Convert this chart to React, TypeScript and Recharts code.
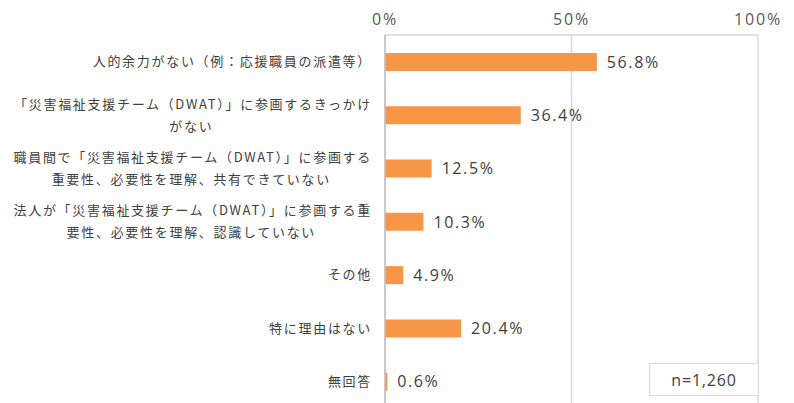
import React from 'react';
import { BarChart, Bar, XAxis, YAxis, CartesianGrid, LabelList } from 'recharts';

const categories = [
    '人的余力がない（例：応援職員の派遣等）',
    '「災害福祉支援チーム（DWAT）」に参画するきっかけ\nがない',
    '職員間で「災害福祉支援チーム（DWAT）」に参画する\n重要性、必要性を理解、共有できていない',
    '法人が「災害福祉支援チーム（DWAT）」に参画する重\n要性、必要性を理解、認識していない',
    'その他',
    '特に理由はない',
    '無回答',
];
const values = [56.8, 36.4, 12.5, 10.3, 4.9, 20.4, 0.6];
const xTicks = [0, 50, 100];
const sampleNote = 'n=1,260';

const data = categories.map((name, i) => ({ name, value: values[i] }));

const LABEL_FONT = 13;
const LABEL_SPACING = 1.7;

// rough text width so wrapped lines can be centred under the first line
const textWidth = (s: string) =>
    Array.from(s).reduce(
        (w, ch) => w + (ch.charCodeAt(0) > 0x2000 ? LABEL_FONT : LABEL_FONT * 0.6) + LABEL_SPACING,
        0
    );

const CategoryTick = (props: any) => {
    const { x, y, payload } = props;
    const lines: string[] = String(payload.value).split('\n');
    const lineH = 22;
    const startY = y - ((lines.length - 1) * lineH) / 2;
    const firstW = textWidth(lines[0]);
    return (
        <g>
            {lines.map((line, i) => (
                <text
                    key={i}
                    x={i === 0 ? x : x - firstW / 2}
                    y={startY + i * lineH}
                    dy="0.36em"
                    textAnchor={i === 0 ? 'end' : 'middle'}
                    fontSize={LABEL_FONT}
                    letterSpacing={LABEL_SPACING}
                    fill="#404040"
                    fontFamily="'Noto Sans CJK JP', sans-serif"
                >
                    {line}
                </text>
            ))}
        </g>
    );
};

export default function App() {
    return (
        <div style={{ position: 'relative', width: 786, height: 395, overflow: 'hidden', background: '#fff' }}>
            <BarChart
                width={786}
                height={402}
                data={data}
                layout="vertical"
                margin={{ top: 0, right: 36, bottom: 2, left: 0 }}
            >
                <CartesianGrid horizontal={false} stroke="#d9d9d9" strokeWidth={1.5} />
                <XAxis
                    type="number"
                    orientation="top"
                    domain={[0, 100]}
                    ticks={xTicks}
                    height={27}
                    tickFormatter={(v: number) => `${v}%`}
                    axisLine={{ stroke: '#d9d9d9', strokeWidth: 1.5 }}
                    tickLine={false}
                    tickSize={0}
                    tickMargin={10}
                    tick={{ fill: '#595959', fontSize: 16, letterSpacing: 1.8, fontFamily: "'Open Sans', sans-serif" }}
                />
                <YAxis
                    type="category"
                    dataKey="name"
                    width={377}
                    axisLine={{ stroke: '#bfbfbf', strokeWidth: 1.5 }}
                    tickLine={false}
                    tickSize={0}
                    tickMargin={13}
                    interval={0}
                    tick={<CategoryTick />}
                />
                <Bar dataKey="value" fill="#f79646" barSize={18} isAnimationActive={false}>
                    <LabelList
                        dataKey="value"
                        position="right"
                        offset={10}
                        formatter={(v: any) => `${Number(v).toFixed(1)}%`}
                        fill="#404040"
                        fontSize={16}
                        letterSpacing={1.6}
                        fontFamily="'Open Sans', sans-serif"
                    />
                </Bar>
            </BarChart>
            <div
                style={{
                    position: 'absolute',
                    left: 641,
                    top: 355,
                    width: 108,
                    height: 31,
                    border: '1px solid #d9d9d9',
                    background: '#fff',
                    display: 'flex',
                    alignItems: 'center',
                    justifyContent: 'center',
                    fontFamily: "'Open Sans', sans-serif",
                    fontSize: 16,
                    letterSpacing: 0.8,
                    color: '#404040',
                }}
            >
                {sampleNote}
            </div>
        </div>
    );
}
